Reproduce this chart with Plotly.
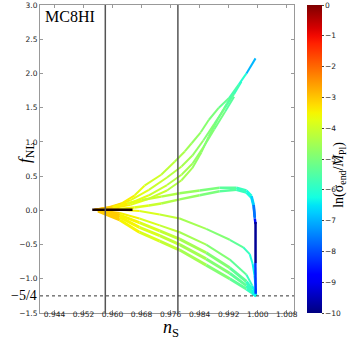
import numpy as np
import plotly.graph_objects as go
from plotly.colors import sample_colorscale

# ---- values (n_s, f_NL, ln(sigma_end/M_Pl)) ----
# rising fan
up1_ns = [0.955, 0.9585, 0.9624, 0.9661, 0.9688, 0.9734, 0.9771, 0.9799, 0.9818, 0.9843, 0.9865, 0.9893, 0.9921, 0.9948, 0.9969, 0.9994]
up1_fnl = [0.01, 0.04, 0.10, 0.22, 0.36, 0.52, 0.71, 0.86, 0.98, 1.14, 1.32, 1.50, 1.64, 1.84, 2.00, 2.22]
up1_ln = [-2.6, -3.0, -3.3, -3.6, -3.8, -4.1, -4.3, -4.5, -4.6, -4.8, -4.9, -5.1, -5.4, -5.8, -6.3, -7.6]

up2_ns = [0.955, 0.960, 0.965, 0.970, 0.975, 0.979, 0.982, 0.985, 0.988, 0.991, 0.9935, 0.9955]
up2_fnl = [0.01, 0.05, 0.15, 0.30, 0.48, 0.64, 0.80, 1.02, 1.26, 1.50, 1.70, 1.88]
up2_ln = [-2.6, -3.2, -3.6, -3.9, -4.2, -4.4, -4.6, -4.8, -5.0, -5.2, -5.6, -6.0]

up3_ns = [0.955, 0.960, 0.965, 0.970, 0.975, 0.979, 0.982, 0.985, 0.988, 0.991, 0.9935]
up3_fnl = [0.01, 0.04, 0.11, 0.22, 0.37, 0.52, 0.68, 0.92, 1.18, 1.44, 1.66]
up3_ln = [-2.6, -3.2, -3.6, -3.9, -4.2, -4.4, -4.6, -4.8, -5.0, -5.2, -5.6]

up4_ns = [0.955, 0.960, 0.965, 0.970, 0.975, 0.979, 0.982, 0.9845, 0.9865, 0.989, 0.9915, 0.994]
up4_fnl = [0.01, 0.03, 0.08, 0.17, 0.29, 0.44, 0.62, 0.85, 1.08, 1.33, 1.56, 1.76]
up4_ln = [-2.6, -3.2, -3.6, -3.9, -4.2, -4.4, -4.6, -4.8, -4.9, -5.1, -5.4, -5.8]

# middle branch (rises, then drops at n_s = 1)
mid1_ns = [0.956, 0.960, 0.964, 0.968, 0.9734, 0.9785, 0.984, 0.9895, 0.9941, 0.9969, 0.9983, 0.9989, 0.9992]
mid1_fnl = [0.01, 0.05, 0.10, 0.15, 0.20, 0.25, 0.29, 0.33, 0.33, 0.29, 0.21, 0.08, -0.10]
mid1_ln = [-2.8, -3.3, -3.6, -3.9, -4.2, -4.5, -4.8, -5.2, -5.6, -6.0, -6.4, -7.0, -8.2]

mid2_ns = [0.956, 0.962, 0.966, 0.970, 0.9734, 0.9785, 0.984, 0.9895, 0.9941, 0.9969, 0.9983, 0.9989, 0.9992, 0.9994]
mid2_fnl = [0.0, 0.02, 0.04, 0.07, 0.10, 0.16, 0.22, 0.28, 0.30, 0.26, 0.18, 0.05, -0.12, -0.20]
mid2_ln = [-2.8, -3.4, -3.7, -3.9, -4.2, -4.5, -4.8, -5.2, -5.6, -6.0, -6.4, -7.0, -8.2, -9.0]

# vertical pieces at n_s = 1
vert1_ns = [0.9994, 0.9994]
vert1_fnl = [-0.17, -0.77]
vert1_ln = [-9.8, -9.8]

vert2_ns = [0.99935, 0.99945]
vert2_fnl = [-0.77, -1.22]
vert2_ln = [-8.0, -8.4]

# thin falling branch
fall_ns = [0.956, 0.962, 0.9674, 0.973, 0.9785, 0.9858, 0.9923, 0.9960, 0.9978, 0.9986, 0.9991, 0.99935, 0.9995]
fall_fnl = [0.0, 0.01, -0.01, -0.06, -0.12, -0.27, -0.43, -0.54, -0.64, -0.78, -0.95, -1.10, -1.23]
fall_ln = [-2.8, -3.3, -3.7, -4.0, -4.3, -4.7, -5.1, -5.6, -6.0, -6.3, -6.5, -6.7, -6.8]

# lower falling band
low_ns = [0.956, 0.962, 0.9674, 0.973, 0.9785, 0.9858, 0.9923, 0.9969, 0.9985, 0.9996]
low_ln = [-2.8, -3.3, -3.7, -4.0, -4.3, -4.7, -5.1, -5.6, -6.1, -6.5]
low1_fnl = [0.0, -0.04, -0.12, -0.22, -0.32, -0.50, -0.72, -0.94, -1.10, -1.25]
low2_fnl = [0.0, -0.07, -0.18, -0.30, -0.42, -0.62, -0.84, -1.04, -1.16, -1.25]
low3_fnl = [0.0, -0.10, -0.25, -0.37, -0.50, -0.71, -0.92, -1.10, -1.19, -1.25]
low4_fnl = [-0.01, -0.14, -0.32, -0.45, -0.58, -0.80, -1.00, -1.15, -1.21, -1.25]

# dark short segment near f_NL = 0
dark_ns = [0.9544, 0.9655]
dark_fnl = [0.01, 0.01]

ns_bounds = [0.958, 0.978]
x_ticks = [0.944, 0.952, 0.960, 0.968, 0.976, 0.984, 0.992, 1.000, 1.008]
y_ticks = [-1.5, -1.0, -0.5, 0.0, 0.5, 1.0, 1.5, 2.0, 2.5, 3.0]
cb_ticks = list(range(-10, 1))

# matplotlib-like jet colour map
t = np.linspace(0, 1, 41)
r = np.interp(t, [0, 0.35, 0.66, 0.89, 1], [0, 0, 1, 1, 0.5])
g = np.interp(t, [0, 0.125, 0.375, 0.64, 0.91, 1], [0, 0, 1, 1, 0, 0])
b = np.interp(t, [0, 0.11, 0.34, 0.65, 1], [0.5, 1, 1, 0, 0])
jet = [[float(v), f"rgb({int(255*rr)},{int(255*gg)},{int(255*bb)})"] for v, rr, gg, bb in zip(t, r, g, b)]

LMIN, LMAX = -10, 0

fig = go.Figure()


def add_curve(xs, ys, ls, width):
    for i in range(len(xs) - 1):
        c = sample_colorscale(jet, ((ls[i] + ls[i + 1]) / 2 - LMIN) / (LMAX - LMIN))[0]
        fig.add_trace(go.Scatter(x=xs[i:i + 2], y=ys[i:i + 2], mode="lines",
                                 line=dict(color=c, width=width),
                                 showlegend=False, hoverinfo="skip"))


for f in [low4_fnl, low3_fnl, low2_fnl]:
    add_curve(low_ns, f, low_ln, 3)
add_curve(low_ns, low1_fnl, low_ln, 2)
add_curve(fall_ns, fall_fnl, fall_ln, 2)
add_curve(up4_ns, up4_fnl, up4_ln, 2)
add_curve(up3_ns, up3_fnl, up3_ln, 2)
add_curve(up2_ns, up2_fnl, up2_ln, 2)
add_curve(up1_ns, up1_fnl, up1_ln, 2)
add_curve(mid2_ns, mid2_fnl, mid2_ln, 2.5)
add_curve(mid1_ns, mid1_fnl, mid1_ln, 2.5)
add_curve(vert2_ns, vert2_fnl, vert2_ln, 2.5)
add_curve(vert1_ns, vert1_fnl, vert1_ln, 2.5)

fig.add_trace(go.Scatter(x=dark_ns, y=dark_fnl, mode="lines",
                         line=dict(color="#150000", width=2.5),
                         showlegend=False, hoverinfo="skip"))

# colour bar only
fig.add_trace(go.Scatter(
    x=[None], y=[None], mode="markers", showlegend=False,
    marker=dict(color=[LMIN], cmin=LMIN, cmax=LMAX, colorscale=jet, showscale=True,
                colorbar=dict(x=1.051, xanchor="left", xpad=0, ypad=0, y=0.5, len=1,
                              thickness=15, outlinewidth=0,
                              tickvals=cb_ticks, ticks="outside", ticklen=2,
                              tickfont=dict(family="DejaVu Sans", size=7.5, color="#222")))))

for v in ns_bounds:
    fig.add_shape(type="line", x0=v, x1=v, y0=0, y1=1, yref="paper",
                  line=dict(color="#555", width=1.5))
fig.add_shape(type="line", x0=0, x1=1, xref="paper", y0=-1.25, y1=-1.25,
              line=dict(color="#333", width=1, dash="dot"))

serif = "Liberation Serif"
fig.add_annotation(text="MC8HI", x=0.012, y=0.998, xref="paper", yref="paper",
                   xanchor="left", yanchor="top", showarrow=False,
                   font=dict(family=serif, size=16, color="black"))
fig.add_annotation(text="<i>f</i><sub>NL</sub>", x=-0.106, y=0.52, xref="paper", yref="paper",
                   textangle=-90, showarrow=False, font=dict(family=serif, size=17, color="black"))
fig.add_annotation(text="<i>n</i><sub>S</sub>", x=0.515, y=-0.05, xref="paper", yref="paper",
                   yanchor="middle", showarrow=False, font=dict(family=serif, size=18, color="black"))
fig.add_annotation(text="−5/4", x=0.94, y=-1.25, xanchor="right", xshift=-1, showarrow=False,
                   font=dict(family=serif, size=14, color="black"))
fig.add_annotation(text="ln(σ<sub>end</sub>/<i>M</i><sub>Pl</sub>)", x=1.22, y=0.45,
                   xref="paper", yref="paper", textangle=-90, showarrow=False,
                   font=dict(family=serif, size=14, color="black"))

axis_style = dict(showgrid=False, zeroline=False, showline=True, linecolor="#999", linewidth=1,
                  mirror="ticks", ticks="inside", ticklen=3, tickcolor="#999", automargin=False,
                  tickfont=dict(family="DejaVu Sans", size=7.5, color="#222"))
fig.update_xaxes(range=[0.94, 1.01], tickvals=x_ticks, ticktext=[f"{v:.3f}" for v in x_ticks],
                 ticklabelstandoff=-6, **axis_style)
fig.update_yaxes(range=[-1.5, 3.0], tickvals=y_ticks, tickformat=".1f", **axis_style)

fig.update_layout(width=364, height=341, margin=dict(l=40, r=70, t=5, b=28, autoexpand=False),
                  plot_bgcolor="white", paper_bgcolor="white")

# drop the browser's default page margin so the figure sits at the window corner
fig.write_html("out.html", config={"displayModeBar": False},
               post_script="document.body.style.margin='0';")
